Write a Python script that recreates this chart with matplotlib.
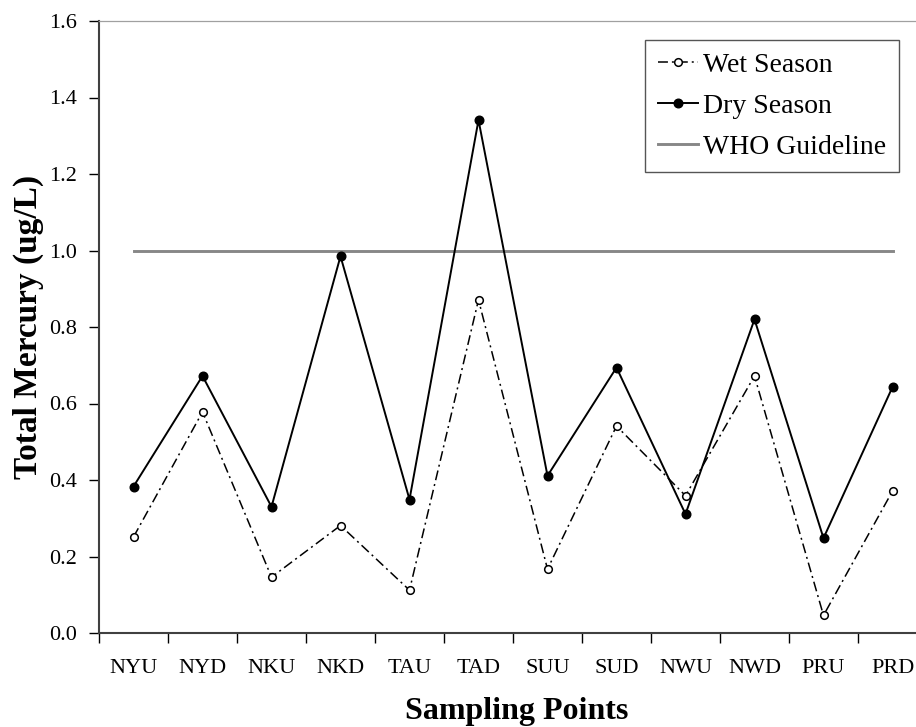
import numpy as np
import matplotlib
matplotlib.use("Agg")
import matplotlib.pyplot as plt
from matplotlib.ticker import FixedLocator, NullFormatter

plt.rcParams["font.family"] = ["Liberation Serif", "DejaVu Serif"]

# data
sites = ["NYU", "NYD", "NKU", "NKD", "TAU", "TAD",
         "SUU", "SUD", "NWU", "NWD", "PRU", "PRD"]
wet_season = [0.251, 0.578, 0.146, 0.281, 0.112, 0.871,
              0.167, 0.541, 0.359, 0.672, 0.046, 0.371]
dry_season = [0.383, 0.672, 0.330, 0.985, 0.349, 1.341,
              0.411, 0.694, 0.311, 0.820, 0.248, 0.643]
who_guideline = 1.0
y_ticks = [0.0, 0.2, 0.4, 0.6, 0.8, 1.0, 1.2, 1.4, 1.6]

W, H = 916, 727
fig = plt.figure(figsize=(W / 100, H / 100), dpi=100)
# plot area runs past the right edge of the figure, as in the original
ax = fig.add_axes([99 / W, 1 - 633 / H, 828 / W, 612 / H])

x = np.arange(len(sites))

ax.plot(x, wet_season, color="black", lw=1.1, dashes=[6.5, 2.6, 1.3, 2.6],
        marker="o", ms=5.5, mfc="white", mec="black", mew=1.1,
        label="Wet Season", zorder=3)
ax.plot(x, dry_season, color="black", lw=1.4, ls="-",
        marker="o", ms=6.2, mfc="black", mec="black",
        label="Dry Season", zorder=3)
ax.plot([x[0], x[-1]], [who_guideline, who_guideline], color="#878787",
        lw=2.1, label="WHO Guideline", zorder=2)

ax.set_xlim(-0.5, len(sites) - 0.5)
ax.set_ylim(0, 1.6)
ax.set_yticks(y_ticks)
ax.set_yticklabels([f"{v:.1f}" for v in y_ticks], fontsize=16)

# category labels in the middle, tick marks between categories
ax.set_xticks(x)
ax.set_xticklabels(sites, fontsize=16)
ax.tick_params(axis="x", which="major", length=0, pad=19)
ax.xaxis.set_minor_locator(FixedLocator(np.arange(-0.5, len(sites), 1.0)))
ax.xaxis.set_minor_formatter(NullFormatter())
ax.tick_params(axis="x", which="minor", length=7, width=1, direction="out")
ax.tick_params(axis="y", length=7, width=1, direction="out", pad=9)

for side in ["left", "bottom"]:
    ax.spines[side].set_color("#404040")
    ax.spines[side].set_linewidth(1.5)
ax.spines["top"].set_color("#a0a0a0")
ax.spines["top"].set_linewidth(0.9)
ax.spines["right"].set_visible(False)

ax.set_ylabel("Total Mercury (ug/L)", fontsize=24, fontweight="bold")
ax.yaxis.set_label_coords(-(99 - 44) / 828, 0.5)
ax.set_xlabel("Sampling Points", fontsize=23, fontweight="bold")
ax.xaxis.set_label_coords(0.505, -(697 - 633) / 612)

leg = ax.legend(loc="upper left",
                bbox_to_anchor=((645 - 99) / 828, (633 - 40) / 612),
                borderaxespad=0, fontsize=20, numpoints=1,
                handlelength=1.45, handletextpad=0.2, borderpad=0.45,
                labelspacing=0.56, fancybox=False, framealpha=1.0,
                edgecolor="#555555")
leg.get_frame().set_linewidth(1.0)

plt.savefig("out.png", dpi=100)
plt.close()
